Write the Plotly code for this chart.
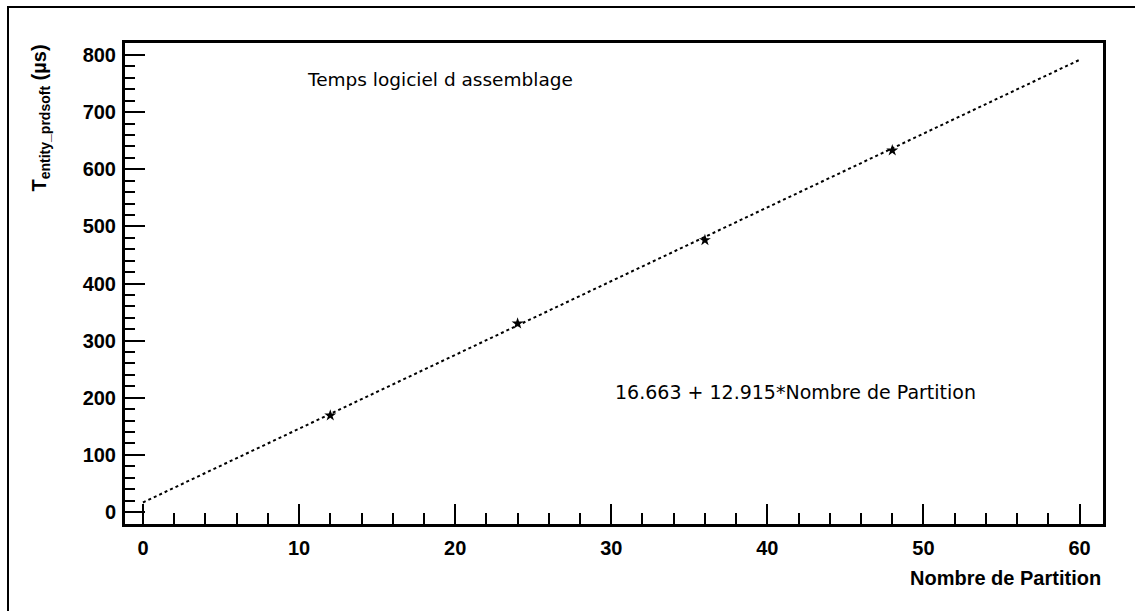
import plotly.graph_objects as go

# Data
partitions = [12, 24, 36, 48]
temps_us = [169, 330, 476, 633]
fit_intercept = 16.663
fit_slope = 12.915
fit_x = [0, 60]
fit_y = [fit_intercept + fit_slope * v for v in fit_x]

W, H = 1135, 611
L, R, T, B = 125, 32, 43, 87
pw, ph = W - L - R, H - T - B

def px(x):
    return (x - L) / pw

def py(y):
    return (H - B - y) / ph

FONT = "Liberation Sans, Arial, sans-serif"
FONT2 = "DejaVu Sans, sans-serif"

fig = go.Figure()
fig.add_trace(go.Scatter(x=fit_x, y=fit_y, mode="lines",
                         line=dict(color="black", width=2, dash="dot"),
                         hoverinfo="skip", showlegend=False))
fig.add_trace(go.Scatter(x=partitions, y=temps_us, mode="markers",
                         marker=dict(symbol="star", size=9, color="black"),
                         showlegend=False))

fig.update_layout(
    width=W, height=H,
    margin=dict(l=L, r=R, t=T, b=B),
    paper_bgcolor="white", plot_bgcolor="white",
    font=dict(family=FONT, color="black"),
    xaxis=dict(range=[-1.15, 61.5], tickmode="array", tickvals=[0, 10, 20, 30, 40, 50, 60],
               ticks="inside", ticklen=20, tickwidth=2, tickcolor="black",
               minor=dict(tickvals=[v for v in range(0, 61, 2) if v % 10], ticks="inside",
                          ticklen=11, tickwidth=2, tickcolor="black"),
               showline=True, linewidth=3, linecolor="black", mirror=True,
               showgrid=False, zeroline=False,
               tickfont=dict(size=20, family=FONT, weight="bold"), ticklabelstandoff=4),
    yaxis=dict(range=[-21, 821], tickmode="array", tickvals=list(range(0, 801, 100)),
               ticks="inside", ticklen=20, tickwidth=2, tickcolor="black",
               minor=dict(tickvals=[v for v in range(0, 801, 20) if v % 100], ticks="inside",
                          ticklen=10, tickwidth=2, tickcolor="black"),
               showline=True, linewidth=3, linecolor="black", mirror=True,
               showgrid=False, zeroline=False,
               tickfont=dict(size=20, family=FONT, weight="bold"), ticklabelstandoff=2),
    shapes=[
        dict(type="rect", xref="paper", yref="paper",
             x0=px(8), x1=px(1145), y0=py(625), y1=py(7),
             line=dict(color="black", width=2), layer="below"),
    ],
    annotations=[
        dict(text="Nombre de Partition", xref="paper", yref="paper",
             x=px(1103), y=py(578), xanchor="right", yanchor="middle", showarrow=False,
             font=dict(size=20, family=FONT, weight="bold")),
        dict(text="T<sub>entity_prdsoft</sub> (µs)", xref="paper", yref="paper",
             x=px(40), y=py(43), xanchor="center", yanchor="top", textangle=-90,
             showarrow=False, font=dict(size=20, family=FONT, weight="bold")),
        dict(text="Temps logiciel d assemblage", xref="paper", yref="paper",
             x=px(305), y=py(80), xanchor="left", yanchor="middle", showarrow=False,
             font=dict(size=18.5, family=FONT2)),
        dict(text="16.663 + 12.915*Nombre de Partition", xref="paper", yref="paper",
             x=px(613), y=py(392), xanchor="left", yanchor="middle", showarrow=False,
             font=dict(size=19, family=FONT2)),
    ],
)

fig.write_html("out.html", config={"displayModeBar": False},
               post_script="document.body.style.margin='0';document.body.style.overflow='hidden';")
